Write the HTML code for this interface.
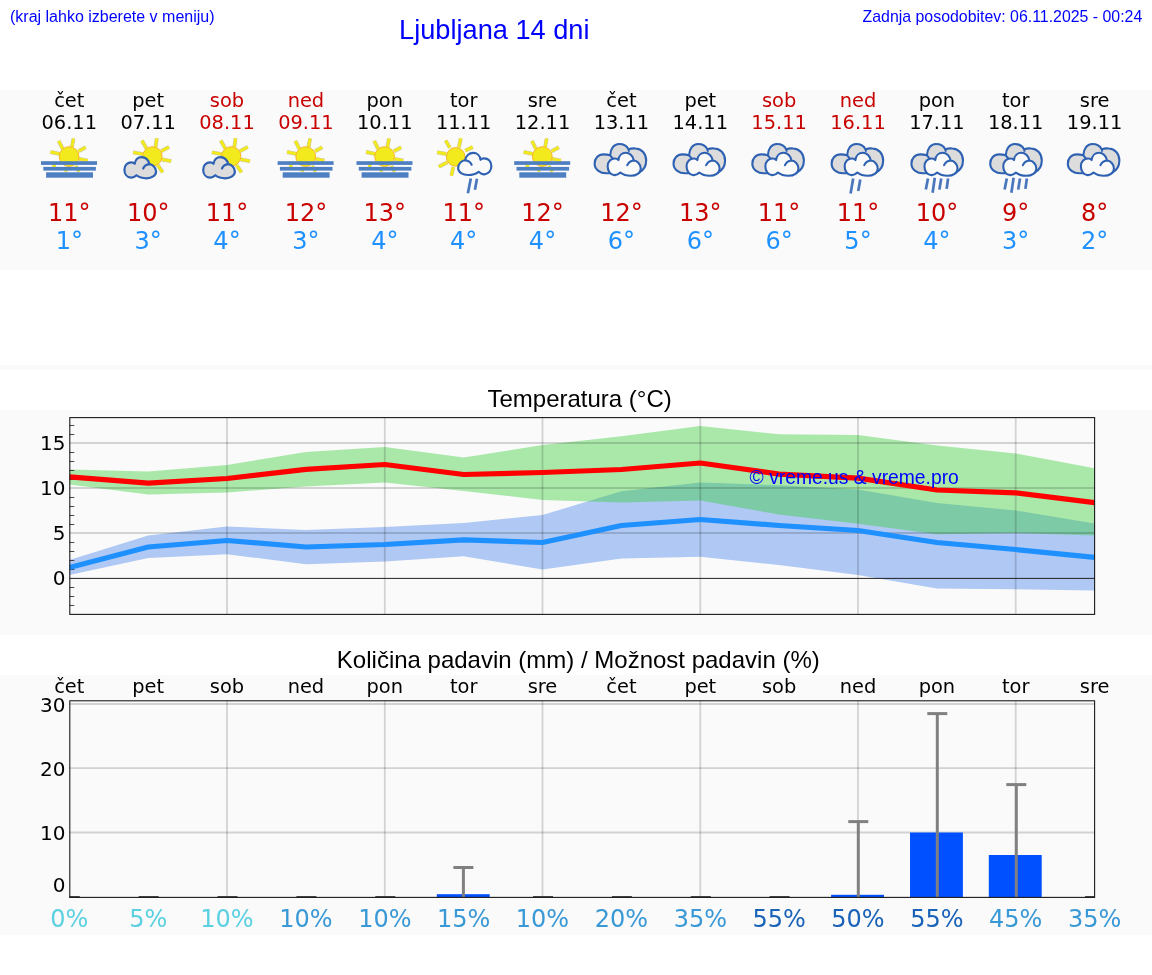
<!DOCTYPE html>
<html lang="sl">
<head>
<meta charset="utf-8">
<title>Ljubljana 14 dni</title>
<style>
html,body{margin:0;padding:0;background:#fff;}
body{width:1152px;height:975px;overflow:hidden;position:relative;}
svg{position:absolute;left:0;top:0;display:block;}
.dj{font-family:"DejaVu Sans","Liberation Sans",sans-serif;}
.ar{font-family:"Liberation Sans","DejaVu Sans",sans-serif;}
.m{text-anchor:middle;}
.e{text-anchor:end;}
</style>
</head>
<body>
<svg width="1152" height="975" viewBox="0 0 1152 975">
<defs>
<clipPath id="ct"><rect x="69.3" y="417.5" width="1025.3" height="197"/></clipPath>
<g id="icA"><line x1="-6.6" y1="148.8" x2="-10.6" y2="140.9" stroke="#a9a56a" stroke-width="3.9" stroke-opacity="0.6"/><line x1="2.6" y1="147.2" x2="4.2" y2="138.5" stroke="#a9a56a" stroke-width="3.9" stroke-opacity="0.6"/><line x1="9.1" y1="151.2" x2="16.4" y2="147.2" stroke="#a9a56a" stroke-width="3.9" stroke-opacity="0.6"/><line x1="-9.7" y1="153.9" x2="-18.8" y2="152.0" stroke="#a9a56a" stroke-width="3.9" stroke-opacity="0.6"/><line x1="9.7" y1="158.9" x2="18.5" y2="160.6" stroke="#a9a56a" stroke-width="3.9" stroke-opacity="0.6"/><line x1="-13.4" y1="165.7" x2="-16.8" y2="165.9" stroke="#a9a56a" stroke-width="3.9" stroke-opacity="0.6"/><line x1="-3.5" y1="169.7" x2="-4.2" y2="171.5" stroke="#a9a56a" stroke-width="3.9" stroke-opacity="0.6"/><line x1="6.0" y1="166.0" x2="10.1" y2="171.5" stroke="#a9a56a" stroke-width="3.9" stroke-opacity="0.6"/><line x1="-6.6" y1="148.8" x2="-10.6" y2="140.9" stroke="#f2ea1d" stroke-width="2.9"/><line x1="2.6" y1="147.2" x2="4.2" y2="138.5" stroke="#f2ea1d" stroke-width="2.9"/><line x1="9.1" y1="151.2" x2="16.4" y2="147.2" stroke="#f2ea1d" stroke-width="2.9"/><line x1="-9.7" y1="153.9" x2="-18.8" y2="152.0" stroke="#f2ea1d" stroke-width="2.9"/><line x1="9.7" y1="158.9" x2="18.5" y2="160.6" stroke="#f2ea1d" stroke-width="2.9"/><line x1="-13.4" y1="165.7" x2="-16.8" y2="165.9" stroke="#f2ea1d" stroke-width="2.9"/><line x1="-3.5" y1="169.7" x2="-4.2" y2="171.5" stroke="#f2ea1d" stroke-width="2.9"/><line x1="6.0" y1="166.0" x2="10.1" y2="171.5" stroke="#f2ea1d" stroke-width="2.9"/><circle cx="-0.2" cy="156.6" r="9.9" fill="#f2ea1d" stroke="#f7b42c" stroke-width="1"/><rect x="-28.3" y="161.2" width="56.0" height="3.7" fill="#4f7fc3"/><rect x="-26.0" y="166.9" width="52.6" height="3.7" fill="#4f7fc3"/><rect x="-23.2" y="172.3" width="46.9" height="5.4" fill="#4f7fc3"/></g>
<g id="icB"><line x1="-1.7" y1="148.5" x2="-6.3" y2="140.6" stroke="#a9a56a" stroke-width="3.9" stroke-opacity="0.6"/><line x1="7.3" y1="147.1" x2="8.6" y2="138.2" stroke="#a9a56a" stroke-width="3.9" stroke-opacity="0.6"/><line x1="12.9" y1="151.2" x2="20.8" y2="146.9" stroke="#a9a56a" stroke-width="3.9" stroke-opacity="0.6"/><line x1="-5.3" y1="154.1" x2="-15.1" y2="152.4" stroke="#a9a56a" stroke-width="3.9" stroke-opacity="0.6"/><line x1="13.8" y1="159.5" x2="23.0" y2="161.1" stroke="#a9a56a" stroke-width="3.9" stroke-opacity="0.6"/><line x1="9.6" y1="165.2" x2="14.5" y2="172.4" stroke="#a9a56a" stroke-width="3.9" stroke-opacity="0.6"/><line x1="-1.7" y1="148.5" x2="-6.3" y2="140.6" stroke="#f2ea1d" stroke-width="2.9"/><line x1="7.3" y1="147.1" x2="8.6" y2="138.2" stroke="#f2ea1d" stroke-width="2.9"/><line x1="12.9" y1="151.2" x2="20.8" y2="146.9" stroke="#f2ea1d" stroke-width="2.9"/><line x1="-5.3" y1="154.1" x2="-15.1" y2="152.4" stroke="#f2ea1d" stroke-width="2.9"/><line x1="13.8" y1="159.5" x2="23.0" y2="161.1" stroke="#f2ea1d" stroke-width="2.9"/><line x1="9.6" y1="165.2" x2="14.5" y2="172.4" stroke="#f2ea1d" stroke-width="2.9"/><circle cx="4.2" cy="156.4" r="9.7" fill="#f2ea1d" stroke="#f7b42c" stroke-width="1"/><path d="M -23.79 169.67 C -23.79 165.18 -20.53 162.23 -16.72 162.35 C -15.37 162.41 -14.26 162.90 -13.46 163.76 C -13.03 159.64 -9.95 157.12 -6.57 157.12 C -2.57 157.12 0.62 160.14 1.12 164.19 C 4.50 164.44 7.88 167.52 7.88 171.57 C 7.88 175.63 3.58 178.28 -1.65 178.28 C -5.65 178.28 -9.34 177.11 -11.68 175.26 C -13.52 177.05 -15.49 177.85 -17.33 177.66 C -21.33 177.36 -23.79 173.79 -23.79 169.67 Z" fill="#dcdcdc" stroke="#2e61b2" stroke-width="2.2" stroke-linejoin="round"/><path d="M 1.24 164.19 C -1.22 164.44 -3.93 165.98 -5.03 168.50" fill="none" stroke="#2e61b2" stroke-width="2.2" stroke-linecap="round"/></g>
<g id="icC"><line x1="-13.8" y1="147.8" x2="-18.1" y2="140.6" stroke="#a9a56a" stroke-width="3.9" stroke-opacity="0.6"/><line x1="-4.8" y1="147.4" x2="-2.9" y2="138.3" stroke="#a9a56a" stroke-width="3.9" stroke-opacity="0.6"/><line x1="1.5" y1="150.8" x2="9.0" y2="146.9" stroke="#a9a56a" stroke-width="3.9" stroke-opacity="0.6"/><line x1="-17.3" y1="154.0" x2="-26.6" y2="152.3" stroke="#a9a56a" stroke-width="3.9" stroke-opacity="0.6"/><line x1="-16.3" y1="162.3" x2="-24.9" y2="166.7" stroke="#a9a56a" stroke-width="3.9" stroke-opacity="0.6"/><line x1="-10.4" y1="167.0" x2="-12.3" y2="175.7" stroke="#a9a56a" stroke-width="3.9" stroke-opacity="0.6"/><line x1="-13.8" y1="147.8" x2="-18.1" y2="140.6" stroke="#f2ea1d" stroke-width="2.9"/><line x1="-4.8" y1="147.4" x2="-2.9" y2="138.3" stroke="#f2ea1d" stroke-width="2.9"/><line x1="1.5" y1="150.8" x2="9.0" y2="146.9" stroke="#f2ea1d" stroke-width="2.9"/><line x1="-17.3" y1="154.0" x2="-26.6" y2="152.3" stroke="#f2ea1d" stroke-width="2.9"/><line x1="-16.3" y1="162.3" x2="-24.9" y2="166.7" stroke="#f2ea1d" stroke-width="2.9"/><line x1="-10.4" y1="167.0" x2="-12.3" y2="175.7" stroke="#f2ea1d" stroke-width="2.9"/><circle cx="-8.0" cy="156.9" r="9.3" fill="#f2ea1d" stroke="#f7b42c" stroke-width="1"/><path d="M 27.67 165.99 C 27.67 161.30 24.24 158.22 20.24 158.34 C 18.82 158.41 17.65 158.92 16.81 159.82 C 16.36 155.52 13.13 152.89 9.58 152.89 C 5.38 152.89 2.02 156.03 1.50 160.27 C -2.05 160.53 -5.61 163.74 -5.61 167.98 C -5.61 172.22 -1.08 174.98 4.41 174.98 C 8.61 174.98 12.48 173.76 14.94 171.83 C 16.88 173.70 18.94 174.53 20.88 174.34 C 25.08 174.02 27.67 170.29 27.67 165.99 Z" fill="#fafafa" stroke="#2e61b2" stroke-width="2.1" stroke-linejoin="round"/><path d="M 1.37 160.27 C 3.96 160.53 6.80 162.13 7.96 164.77" fill="none" stroke="#2e61b2" stroke-width="2.1" stroke-linecap="round"/><line x1="7.1" y1="178.5" x2="4.2" y2="193.2" stroke="#4a76bd" stroke-width="2.7"/><line x1="13.3" y1="178.8" x2="11.2" y2="189.7" stroke="#4a76bd" stroke-width="2.7"/></g>
<g id="icD"><path d="M -26.78 163.74 C -26.78 158.36 -23.19 154.41 -17.80 154.41 C -15.29 154.41 -13.14 154.77 -11.27 155.34 C -10.98 148.66 -7.39 144.07 -2.37 144.07 C 2.30 144.07 5.67 146.22 7.11 149.38 C 9.12 148.52 11.99 148.31 14.14 148.52 C 20.25 148.81 24.77 153.69 24.77 160.51 C 24.77 165.89 22.04 170.34 17.73 172.50 L -13.85 173.22 C -21.03 173.93 -26.78 169.48 -26.78 163.74 Z" fill="#dcdcdc" stroke="#2e61b2" stroke-width="2.1" stroke-linejoin="round"/><path d="M -11.27 155.34 L -8.54 158.72 M 7.11 149.38 L 7.68 151.68" fill="none" stroke="#2e61b2" stroke-width="2"/><path d="M -13.72 166.44 C -13.72 161.56 -10.31 158.35 -6.33 158.48 C -4.92 158.55 -3.76 159.08 -2.93 160.02 C -2.48 155.54 0.73 152.80 4.26 152.80 C 8.44 152.80 11.78 156.07 12.29 160.49 C 15.82 160.76 19.35 164.10 19.35 168.51 C 19.35 172.93 14.86 175.80 9.40 175.80 C 5.23 175.80 1.37 174.53 -1.07 172.53 C -2.99 174.46 -5.05 175.33 -6.98 175.13 C -11.15 174.80 -13.72 170.92 -13.72 166.44 Z" fill="#fafafa" stroke="#2e61b2" stroke-width="2.1" stroke-linejoin="round"/><path d="M 12.42 160.49 C 9.85 160.76 7.02 162.43 5.87 165.17" fill="none" stroke="#2e61b2" stroke-width="2.1" stroke-linecap="round"/></g>
<g id="icE"><use href="#icD" x="0.4"/><line x1="-4.8" y1="178.5" x2="-7.4" y2="193.5" stroke="#4a76bd" stroke-width="2.7"/><line x1="2.3" y1="179.5" x2="0.2" y2="191.0" stroke="#4a76bd" stroke-width="2.7"/></g>
<g id="icF"><use href="#icD" x="1.3"/><line x1="-8.9" y1="178.5" x2="-11.1" y2="189.6" stroke="#4a76bd" stroke-width="2.7"/><line x1="-2.1" y1="177.7" x2="-4.3" y2="192.8" stroke="#4a76bd" stroke-width="2.7"/><line x1="4.3" y1="178.5" x2="2.5" y2="189.6" stroke="#4a76bd" stroke-width="2.7"/><line x1="11.2" y1="178.5" x2="9.7" y2="188.9" stroke="#4a76bd" stroke-width="2.7"/></g>
</defs>
<rect x="0" y="90" width="1152" height="180" fill="#fafafa"/>
<rect x="0" y="365" width="1152" height="5" fill="#fafafa"/>
<rect x="0" y="410" width="1152" height="225" fill="#fafafa"/>
<rect x="0" y="675" width="1152" height="260" fill="#fafafa"/>
<text class="ar" x="10" y="22.3" font-size="16" fill="#0000ff">(kraj lahko izberete v meniju)</text>
<text class="ar m" x="494.3" y="39" font-size="27.2" fill="#0000ff">Ljubljana 14 dni</text>
<text class="ar e" x="1142.3" y="22.4" font-size="15.9" fill="#0000ff">Zadnja posodobitev: 06.11.2025 - 00:24</text>
<text class="dj m" x="69.3" y="106.6" font-size="19.4" fill="#000">čet</text><text class="dj m" x="69.3" y="129.2" font-size="19.4" fill="#000">06.11</text><use href="#icA" x="69.3" y="0"/><text class="dj m" x="69.3" y="221" font-size="24" fill="#c80000">11°</text><text class="dj m" x="69.3" y="249" font-size="24" fill="#1e90ff">1°</text>
<text class="dj m" x="148.2" y="106.6" font-size="19.4" fill="#000">pet</text><text class="dj m" x="148.2" y="129.2" font-size="19.4" fill="#000">07.11</text><use href="#icB" x="148.2" y="0"/><text class="dj m" x="148.2" y="221" font-size="24" fill="#c80000">10°</text><text class="dj m" x="148.2" y="249" font-size="24" fill="#1e90ff">3°</text>
<text class="dj m" x="227.0" y="106.6" font-size="19.4" fill="#c80000">sob</text><text class="dj m" x="227.0" y="129.2" font-size="19.4" fill="#c80000">08.11</text><use href="#icB" x="227.0" y="0"/><text class="dj m" x="227.0" y="221" font-size="24" fill="#c80000">11°</text><text class="dj m" x="227.0" y="249" font-size="24" fill="#1e90ff">4°</text>
<text class="dj m" x="305.9" y="106.6" font-size="19.4" fill="#c80000">ned</text><text class="dj m" x="305.9" y="129.2" font-size="19.4" fill="#c80000">09.11</text><use href="#icA" x="305.9" y="0"/><text class="dj m" x="305.9" y="221" font-size="24" fill="#c80000">12°</text><text class="dj m" x="305.9" y="249" font-size="24" fill="#1e90ff">3°</text>
<text class="dj m" x="384.8" y="106.6" font-size="19.4" fill="#000">pon</text><text class="dj m" x="384.8" y="129.2" font-size="19.4" fill="#000">10.11</text><use href="#icA" x="384.8" y="0"/><text class="dj m" x="384.8" y="221" font-size="24" fill="#c80000">13°</text><text class="dj m" x="384.8" y="249" font-size="24" fill="#1e90ff">4°</text>
<text class="dj m" x="463.7" y="106.6" font-size="19.4" fill="#000">tor</text><text class="dj m" x="463.7" y="129.2" font-size="19.4" fill="#000">11.11</text><use href="#icC" x="463.7" y="0"/><text class="dj m" x="463.7" y="221" font-size="24" fill="#c80000">11°</text><text class="dj m" x="463.7" y="249" font-size="24" fill="#1e90ff">4°</text>
<text class="dj m" x="542.5" y="106.6" font-size="19.4" fill="#000">sre</text><text class="dj m" x="542.5" y="129.2" font-size="19.4" fill="#000">12.11</text><use href="#icA" x="542.5" y="0"/><text class="dj m" x="542.5" y="221" font-size="24" fill="#c80000">12°</text><text class="dj m" x="542.5" y="249" font-size="24" fill="#1e90ff">4°</text>
<text class="dj m" x="621.4" y="106.6" font-size="19.4" fill="#000">čet</text><text class="dj m" x="621.4" y="129.2" font-size="19.4" fill="#000">13.11</text><use href="#icD" x="621.4" y="0"/><text class="dj m" x="621.4" y="221" font-size="24" fill="#c80000">12°</text><text class="dj m" x="621.4" y="249" font-size="24" fill="#1e90ff">6°</text>
<text class="dj m" x="700.3" y="106.6" font-size="19.4" fill="#000">pet</text><text class="dj m" x="700.3" y="129.2" font-size="19.4" fill="#000">14.11</text><use href="#icD" x="700.3" y="0"/><text class="dj m" x="700.3" y="221" font-size="24" fill="#c80000">13°</text><text class="dj m" x="700.3" y="249" font-size="24" fill="#1e90ff">6°</text>
<text class="dj m" x="779.1" y="106.6" font-size="19.4" fill="#c80000">sob</text><text class="dj m" x="779.1" y="129.2" font-size="19.4" fill="#c80000">15.11</text><use href="#icD" x="779.1" y="0"/><text class="dj m" x="779.1" y="221" font-size="24" fill="#c80000">11°</text><text class="dj m" x="779.1" y="249" font-size="24" fill="#1e90ff">6°</text>
<text class="dj m" x="858.0" y="106.6" font-size="19.4" fill="#c80000">ned</text><text class="dj m" x="858.0" y="129.2" font-size="19.4" fill="#c80000">16.11</text><use href="#icE" x="858.0" y="0"/><text class="dj m" x="858.0" y="221" font-size="24" fill="#c80000">11°</text><text class="dj m" x="858.0" y="249" font-size="24" fill="#1e90ff">5°</text>
<text class="dj m" x="936.9" y="106.6" font-size="19.4" fill="#000">pon</text><text class="dj m" x="936.9" y="129.2" font-size="19.4" fill="#000">17.11</text><use href="#icF" x="936.9" y="0"/><text class="dj m" x="936.9" y="221" font-size="24" fill="#c80000">10°</text><text class="dj m" x="936.9" y="249" font-size="24" fill="#1e90ff">4°</text>
<text class="dj m" x="1015.7" y="106.6" font-size="19.4" fill="#000">tor</text><text class="dj m" x="1015.7" y="129.2" font-size="19.4" fill="#000">18.11</text><use href="#icF" x="1015.7" y="0"/><text class="dj m" x="1015.7" y="221" font-size="24" fill="#c80000">9°</text><text class="dj m" x="1015.7" y="249" font-size="24" fill="#1e90ff">3°</text>
<text class="dj m" x="1094.6" y="106.6" font-size="19.4" fill="#000">sre</text><text class="dj m" x="1094.6" y="129.2" font-size="19.4" fill="#000">19.11</text><use href="#icD" x="1094.6" y="0"/><text class="dj m" x="1094.6" y="221" font-size="24" fill="#c80000">8°</text><text class="dj m" x="1094.6" y="249" font-size="24" fill="#1e90ff">2°</text>
<text class="ar m" x="579.6" y="407.3" font-size="24" fill="#000">Temperatura (°C)</text>
<g clip-path="url(#ct)"><polygon points="69.3,560.0 148.2,535.5 227.0,526.5 305.9,530.0 384.8,527.0 463.7,523.0 542.5,515.0 621.4,491.2 700.3,482.5 779.1,485.3 858.0,489.5 936.9,503.0 1015.7,510.5 1094.6,523.5 1094.6,590.5 1015.7,589.3 936.9,588.5 858.0,575.0 779.1,565.0 700.3,556.8 621.4,558.5 542.5,569.5 463.7,556.2 384.8,561.5 305.9,564.2 227.0,554.2 148.2,558.0 69.3,575.0" fill="#6495ed" fill-opacity="0.5"/><polygon points="69.3,469.5 148.2,471.5 227.0,465.0 305.9,452.0 384.8,447.0 463.7,457.5 542.5,445.0 621.4,436.2 700.3,426.0 779.1,434.3 858.0,435.0 936.9,445.5 1015.7,453.4 1094.6,468.2 1094.6,535.6 1015.7,533.0 936.9,534.3 858.0,523.7 779.1,514.5 700.3,500.5 621.4,502.5 542.5,500.0 463.7,491.0 384.8,482.5 305.9,486.5 227.0,492.5 148.2,494.5 69.3,484.4" fill="#32cd32" fill-opacity="0.4"/><line x1="69.3" x2="1094.6" y1="533.0" y2="533.0" stroke="#000" stroke-opacity="0.155" stroke-width="1.8"/><line x1="69.3" x2="1094.6" y1="488.0" y2="488.0" stroke="#000" stroke-opacity="0.155" stroke-width="1.8"/><line x1="69.3" x2="1094.6" y1="443.0" y2="443.0" stroke="#000" stroke-opacity="0.155" stroke-width="1.8"/><line x1="227.0" x2="227.0" y1="417.5" y2="614.4" stroke="#000" stroke-opacity="0.155" stroke-width="1.8"/><line x1="384.8" x2="384.8" y1="417.5" y2="614.4" stroke="#000" stroke-opacity="0.155" stroke-width="1.8"/><line x1="542.5" x2="542.5" y1="417.5" y2="614.4" stroke="#000" stroke-opacity="0.155" stroke-width="1.8"/><line x1="700.3" x2="700.3" y1="417.5" y2="614.4" stroke="#000" stroke-opacity="0.155" stroke-width="1.8"/><line x1="858.0" x2="858.0" y1="417.5" y2="614.4" stroke="#000" stroke-opacity="0.155" stroke-width="1.8"/><line x1="1015.7" x2="1015.7" y1="417.5" y2="614.4" stroke="#000" stroke-opacity="0.155" stroke-width="1.8"/><line x1="69.3" x2="1094.6" y1="578.4" y2="578.4" stroke="#222" stroke-width="1"/><line x1="69.3" x2="74.3" y1="605.5" y2="605.5" stroke="#333" stroke-width="0.9"/><line x1="69.3" x2="74.3" y1="596.5" y2="596.5" stroke="#333" stroke-width="0.9"/><line x1="69.3" x2="74.3" y1="587.5" y2="587.5" stroke="#333" stroke-width="0.9"/><line x1="69.3" x2="74.3" y1="569.5" y2="569.5" stroke="#333" stroke-width="0.9"/><line x1="69.3" x2="74.3" y1="560.5" y2="560.5" stroke="#333" stroke-width="0.9"/><line x1="69.3" x2="74.3" y1="551.5" y2="551.5" stroke="#333" stroke-width="0.9"/><line x1="69.3" x2="74.3" y1="542.5" y2="542.5" stroke="#333" stroke-width="0.9"/><line x1="69.3" x2="74.3" y1="524.5" y2="524.5" stroke="#333" stroke-width="0.9"/><line x1="69.3" x2="74.3" y1="515.5" y2="515.5" stroke="#333" stroke-width="0.9"/><line x1="69.3" x2="74.3" y1="506.5" y2="506.5" stroke="#333" stroke-width="0.9"/><line x1="69.3" x2="74.3" y1="497.5" y2="497.5" stroke="#333" stroke-width="0.9"/><line x1="69.3" x2="74.3" y1="479.5" y2="479.5" stroke="#333" stroke-width="0.9"/><line x1="69.3" x2="74.3" y1="470.5" y2="470.5" stroke="#333" stroke-width="0.9"/><line x1="69.3" x2="74.3" y1="461.5" y2="461.5" stroke="#333" stroke-width="0.9"/><line x1="69.3" x2="74.3" y1="452.5" y2="452.5" stroke="#333" stroke-width="0.9"/><line x1="69.3" x2="74.3" y1="434.5" y2="434.5" stroke="#333" stroke-width="0.9"/><line x1="69.3" x2="74.3" y1="425.5" y2="425.5" stroke="#333" stroke-width="0.9"/><polyline points="69.3,567.5 148.2,547.0 227.0,540.5 305.9,547.0 384.8,544.5 463.7,539.8 542.5,542.5 621.4,525.5 700.3,519.5 779.1,525.5 858.0,530.5 936.9,542.5 1015.7,549.5 1094.6,557.3" fill="none" stroke="#1e90ff" stroke-width="5.2" stroke-linejoin="round"/><polyline points="69.3,476.8 148.2,483.2 227.0,478.5 305.9,469.3 384.8,464.5 463.7,474.5 542.5,472.5 621.4,469.5 700.3,463.0 779.1,474.1 858.0,478.1 936.9,490.0 1015.7,492.9 1094.6,502.6" fill="none" stroke="#ff0000" stroke-width="5.2" stroke-linejoin="round"/></g>
<rect x="69.8" y="417.6" width="1024.8" height="196.8" fill="none" stroke="#1a1a1a" stroke-width="1.1"/>
<text class="dj e" x="65.4" y="585.4" font-size="20" fill="#000">0</text><text class="dj e" x="65.4" y="540.4" font-size="20" fill="#000">5</text><text class="dj e" x="65.4" y="495.4" font-size="20" fill="#000">10</text><text class="dj e" x="65.4" y="450.4" font-size="20" fill="#000">15</text><text class="ar m" x="854.2" y="484.1" font-size="19.3" fill="#0000ff">© vreme.us &amp; vreme.pro</text>
<text class="ar m" x="578.3" y="667.6" font-size="24" fill="#000">Količina padavin (mm) / Možnost padavin (%)</text>
<text class="dj m" x="69.3" y="692.6" font-size="19.4" fill="#000">čet</text><text class="dj m" x="148.2" y="692.6" font-size="19.4" fill="#000">pet</text><text class="dj m" x="227.0" y="692.6" font-size="19.4" fill="#000">sob</text><text class="dj m" x="305.9" y="692.6" font-size="19.4" fill="#000">ned</text><text class="dj m" x="384.8" y="692.6" font-size="19.4" fill="#000">pon</text><text class="dj m" x="463.7" y="692.6" font-size="19.4" fill="#000">tor</text><text class="dj m" x="542.5" y="692.6" font-size="19.4" fill="#000">sre</text><text class="dj m" x="621.4" y="692.6" font-size="19.4" fill="#000">čet</text><text class="dj m" x="700.3" y="692.6" font-size="19.4" fill="#000">pet</text><text class="dj m" x="779.1" y="692.6" font-size="19.4" fill="#000">sob</text><text class="dj m" x="858.0" y="692.6" font-size="19.4" fill="#000">ned</text><text class="dj m" x="936.9" y="692.6" font-size="19.4" fill="#000">pon</text><text class="dj m" x="1015.7" y="692.6" font-size="19.4" fill="#000">tor</text><text class="dj m" x="1094.6" y="692.6" font-size="19.4" fill="#000">sre</text><line x1="69.3" x2="1094.6" y1="832.5" y2="832.5" stroke="#000" stroke-opacity="0.155" stroke-width="1.8"/><line x1="69.3" x2="1094.6" y1="768.2" y2="768.2" stroke="#000" stroke-opacity="0.155" stroke-width="1.8"/><line x1="69.3" x2="1094.6" y1="704.0" y2="704.0" stroke="#000" stroke-opacity="0.155" stroke-width="1.8"/><line x1="227.0" x2="227.0" y1="700.7" y2="897.4" stroke="#000" stroke-opacity="0.155" stroke-width="1.8"/><line x1="384.8" x2="384.8" y1="700.7" y2="897.4" stroke="#000" stroke-opacity="0.155" stroke-width="1.8"/><line x1="542.5" x2="542.5" y1="700.7" y2="897.4" stroke="#000" stroke-opacity="0.155" stroke-width="1.8"/><line x1="700.3" x2="700.3" y1="700.7" y2="897.4" stroke="#000" stroke-opacity="0.155" stroke-width="1.8"/><line x1="858.0" x2="858.0" y1="700.7" y2="897.4" stroke="#000" stroke-opacity="0.155" stroke-width="1.8"/><line x1="1015.7" x2="1015.7" y1="700.7" y2="897.4" stroke="#000" stroke-opacity="0.155" stroke-width="1.8"/><line x1="69.3" x2="79.8" y1="896.8" y2="896.8" stroke="#484848" stroke-width="1.6"/><line x1="138.7" x2="158.7" y1="896.8" y2="896.8" stroke="#484848" stroke-width="1.6"/><line x1="217.5" x2="237.5" y1="896.8" y2="896.8" stroke="#484848" stroke-width="1.6"/><line x1="296.4" x2="316.4" y1="896.8" y2="896.8" stroke="#484848" stroke-width="1.6"/><line x1="375.3" x2="395.3" y1="896.8" y2="896.8" stroke="#484848" stroke-width="1.6"/><rect x="436.8" y="894.2" width="52.9" height="2.8" fill="#0050ff"/><line x1="463.4" x2="463.4" y1="867.5" y2="897" stroke="#808080" stroke-width="3"/><line x1="453.4" x2="473.4" y1="867.5" y2="867.5" stroke="#808080" stroke-width="3"/><line x1="533.0" x2="553.0" y1="896.8" y2="896.8" stroke="#484848" stroke-width="1.6"/><line x1="611.9" x2="631.9" y1="896.8" y2="896.8" stroke="#484848" stroke-width="1.6"/><line x1="690.8" x2="710.8" y1="896.8" y2="896.8" stroke="#484848" stroke-width="1.6"/><line x1="769.6" x2="789.6" y1="896.8" y2="896.8" stroke="#484848" stroke-width="1.6"/><rect x="831.1" y="894.8" width="52.9" height="2.2" fill="#0050ff"/><line x1="858.3" x2="858.3" y1="821.6" y2="897" stroke="#808080" stroke-width="3"/><line x1="848.3" x2="868.3" y1="821.6" y2="821.6" stroke="#808080" stroke-width="3"/><rect x="910.0" y="832.5" width="52.9" height="64.5" fill="#0050ff"/><line x1="937.3" x2="937.3" y1="713.6" y2="897" stroke="#808080" stroke-width="3"/><line x1="927.3" x2="947.3" y1="713.6" y2="713.6" stroke="#808080" stroke-width="3"/><rect x="988.8" y="855.0" width="52.9" height="42.0" fill="#0050ff"/><line x1="1016.3" x2="1016.3" y1="784.6" y2="897" stroke="#808080" stroke-width="3"/><line x1="1006.3" x2="1026.3" y1="784.6" y2="784.6" stroke="#808080" stroke-width="3"/><line x1="1085.1" x2="1094.6" y1="896.8" y2="896.8" stroke="#484848" stroke-width="1.6"/><rect x="69.8" y="700.8" width="1024.8" height="196.6" fill="none" stroke="#1a1a1a" stroke-width="1.1"/>
<text class="dj e" x="65.4" y="712.3" font-size="20" fill="#000">30</text><text class="dj e" x="65.4" y="776.3" font-size="20" fill="#000">20</text><text class="dj e" x="65.4" y="840" font-size="20" fill="#000">10</text><text class="dj e" x="65.4" y="892.3" font-size="20" fill="#000">0</text><text class="dj m" x="69.3" y="926.5" font-size="24" fill="#5bd0e1">0%</text><text class="dj m" x="148.2" y="926.5" font-size="24" fill="#5bd0e1">5%</text><text class="dj m" x="227.0" y="926.5" font-size="24" fill="#5bd0e1">10%</text><text class="dj m" x="305.9" y="926.5" font-size="24" fill="#3998d6">10%</text><text class="dj m" x="384.8" y="926.5" font-size="24" fill="#3998d6">10%</text><text class="dj m" x="463.7" y="926.5" font-size="24" fill="#3998d6">15%</text><text class="dj m" x="542.5" y="926.5" font-size="24" fill="#3998d6">10%</text><text class="dj m" x="621.4" y="926.5" font-size="24" fill="#3998d6">20%</text><text class="dj m" x="700.3" y="926.5" font-size="24" fill="#3998d6">35%</text><text class="dj m" x="779.1" y="926.5" font-size="24" fill="#1962b8">55%</text><text class="dj m" x="858.0" y="926.5" font-size="24" fill="#1962b8">50%</text><text class="dj m" x="936.9" y="926.5" font-size="24" fill="#1962b8">55%</text><text class="dj m" x="1015.7" y="926.5" font-size="24" fill="#3998d6">45%</text><text class="dj m" x="1094.6" y="926.5" font-size="24" fill="#3998d6">35%</text>
</svg>
</body>
</html>
